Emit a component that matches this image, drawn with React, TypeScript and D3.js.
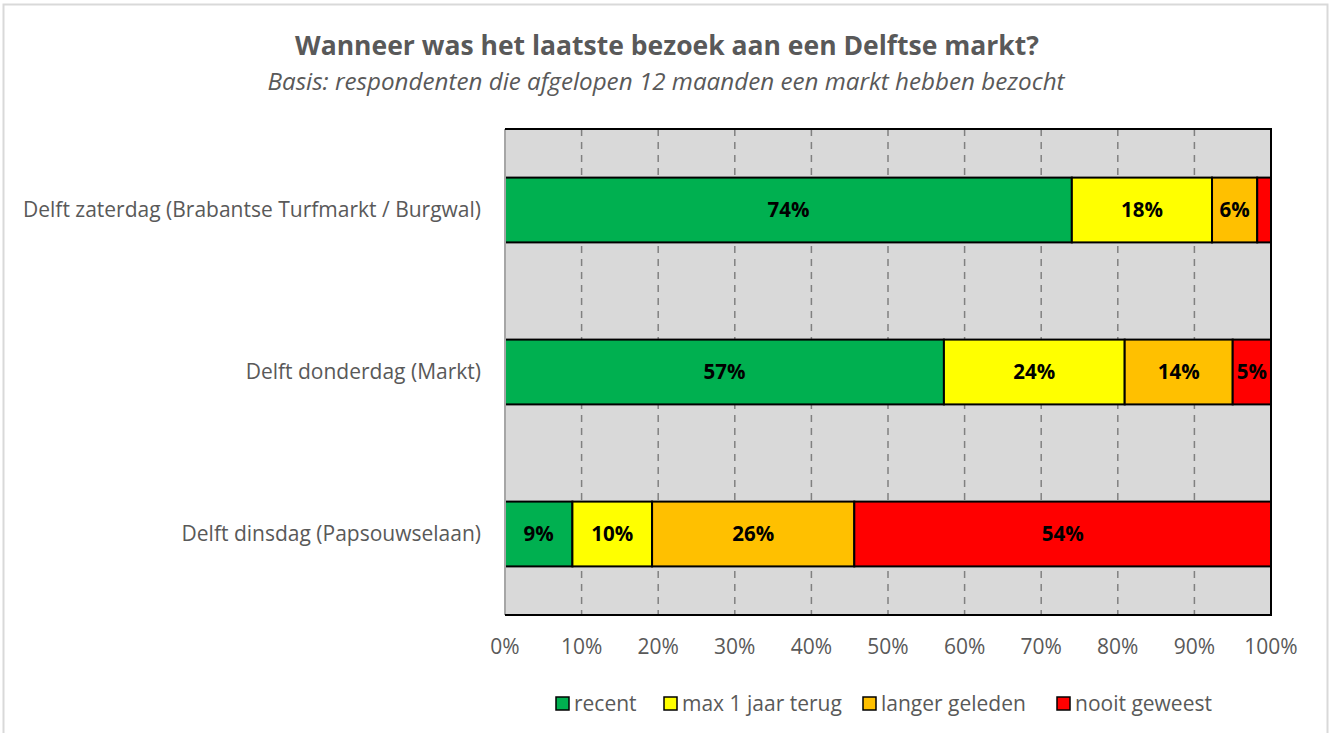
import React from "react";
import * as d3 from "d3";

const categories = [
  "Delft zaterdag (Brabantse Turfmarkt / Burgwal)",
  "Delft donderdag (Markt)",
  "Delft dinsdag (Papsouwselaan)",
];
const seriesNames = ["recent", "max 1 jaar terug", "langer geleden", "nooit geweest"];
const seriesColors = ["#00B050", "#FFFF00", "#FFC000", "#FF0000"];
const recent = [74.0, 57.3, 8.8];
const maxJaar = [18.3, 23.6, 10.4];
const langer = [5.9, 14.1, 26.4];
const nooit = [1.8, 5.0, 54.4];
const xTicks = [0, 10, 20, 30, 40, 50, 60, 70, 80, 90, 100];

const title = "Wanneer was het laatste bezoek aan een Delftse markt?";
const subtitle = "Basis: respondenten die afgelopen 12 maanden een markt hebben bezocht";

const W = 1334;
const H = 733;
const FONT = "'Open Sans', 'Noto Sans', sans-serif";

export default function App() {
  const left = 505, right = 1271, top = 129, bottom = 615;
  const x = d3.scaleLinear().domain([0, 100]).range([left, right]);
  const y = d3.scaleBand().domain(categories).range([top, bottom]).paddingInner(0.6).paddingOuter(0.3);

  const rows = categories.map((c, i) => ({ cat: c, vals: [recent[i], maxJaar[i], langer[i], nooit[i]] }));
  const stack = d3.stack<any>().keys(["0", "1", "2", "3"]).value((d, k) => d.vals[+k]);
  const stacked = stack(rows as any);

  const legendX = [556, 664, 863, 1057];

  return (
    <svg width={W} height={H} style={{ position: "absolute", left: 0, top: 0, display: "block" }} fontFamily={FONT}>
      <rect x={0} y={0} width={W} height={H} fill="#fff" />
      <path d={`M3.5,${H} V4.5 H1327.5 V${H}`} fill="none" stroke="#D9D9D9" strokeWidth={2} />
      <text x={667} y={55} textAnchor="middle" fontSize={26.5} fontWeight="bold" fill="#595959">{title}</text>
      <text x={666} y={90} textAnchor="middle" fontSize={24.2} fontStyle="italic" fill="#595959">{subtitle}</text>

      <rect x={left} y={top} width={right - left} height={bottom - top} fill="#D9D9D9" />
      {xTicks.slice(1, -1).map((t) => (
        <line key={t} x1={x(t)} x2={x(t)} y1={top} y2={bottom} stroke="#808080" strokeWidth={1.5} strokeDasharray="7,6" />
      ))}
      {stacked.map((s, si) =>
        s.map((d: any, ri: number) => {
          const x0 = x(d[0]), x1 = x(d[1]);
          const yy = y(categories[ri])!;
          const val = d[1] - d[0];
          return (
            <g key={`${si}-${ri}`}>
              <rect x={x0} y={yy} width={x1 - x0} height={y.bandwidth()} fill={seriesColors[si]} stroke="#000" strokeWidth={2} />
              {val >= 3 && (
                <text x={(x0 + x1) / 2} y={yy + y.bandwidth() / 2} dy="0.35em" textAnchor="middle" fontSize={20.5} fontWeight="bold" fill="#000">
                  {Math.round(val)}%
                </text>
              )}
            </g>
          );
        })
      )}
      <line x1={left} x2={left} y1={top} y2={bottom} stroke="#A6A6A6" strokeWidth={2} />
      <path d={`M${left},${top} H${right} V${bottom} H${left}`} fill="none" stroke="#000" strokeWidth={2} />

      {categories.map((c) => (
        <text key={c} x={481} y={y(c)! + y.bandwidth() / 2} dy="0.35em" textAnchor="end" fontSize={21} fill="#595959">{c}</text>
      ))}
      {xTicks.map((t) => (
        <text key={t} x={x(t)} y={647} dy="0.35em" textAnchor="middle" fontSize={21} fill="#595959">{t}%</text>
      ))}
      {seriesNames.map((n, i) => (
        <g key={n}>
          <rect x={legendX[i]} y={697} width={13} height={13} fill={seriesColors[i]} stroke="#000" strokeWidth={1.5} />
          <text x={legendX[i] + 18} y={703.5} dy="0.35em" fontSize={21} fill="#595959">{n}</text>
        </g>
      ))}
    </svg>
  );
}
